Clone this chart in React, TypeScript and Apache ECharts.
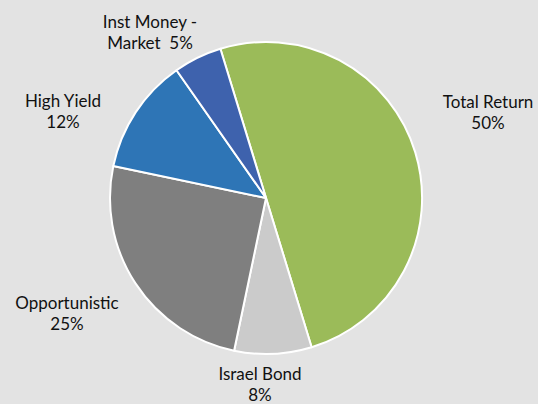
import React, { useEffect, useRef } from "react";
import * as echarts from "echarts";

const categories = ["Total Return", "Israel Bond", "Opportunistic", "High Yield", "Inst Money -\nMarket"];
const percents = [50, 8, 25, 12, 5];
const sliceColors = ["#9BBB59", "#CBCBCB", "#7F7F7F", "#2E75B6", "#3E62AD"];
const labelPositions: [number, number][] = [
  [488, 112],
  [260, 384],
  [67, 313],
  [63, 111],
  [150, 32],
];

export default function App() {
  const ref = useRef<HTMLDivElement>(null);
  useEffect(() => {
    if (!ref.current) return;
    const chart = echarts.init(ref.current, undefined, { renderer: "svg" });
    chart.setOption({
      animation: false,
      backgroundColor: "#E3E3E3",
      series: [
        {
          type: "pie",
          center: [266, 198],
          radius: 156,
          startAngle: 107,
          clockwise: true,
          data: categories.map((name, i) => ({
            name,
            value: percents[i],
            itemStyle: { color: sliceColors[i] },
          })),
          itemStyle: { borderColor: "#FFFFFF", borderWidth: 2 },
          label: {
            show: true,
            position: "outside",
            color: "#111111",
            fontFamily: "Lato",
            fontSize: 17,
            lineHeight: 21,
            align: "center",
            overflow: "none",
            formatter: (p: any) =>
              p.dataIndex === 4 ? `${p.name}  ${p.value}%` : `${p.name}\n${p.value}%`,
          },
          labelLine: { show: false },
          labelLayout: (params: any) => {
            const pos = labelPositions[params.dataIndex];
            return { x: pos[0], y: pos[1], align: "center", verticalAlign: "middle" };
          },
          emphasis: { disabled: true },
        },
      ],
    });
    return () => chart.dispose();
  }, []);
  return <div ref={ref} style={{ width: 538, height: 404, position: "absolute", left: 0, top: 0 }} />;
}
